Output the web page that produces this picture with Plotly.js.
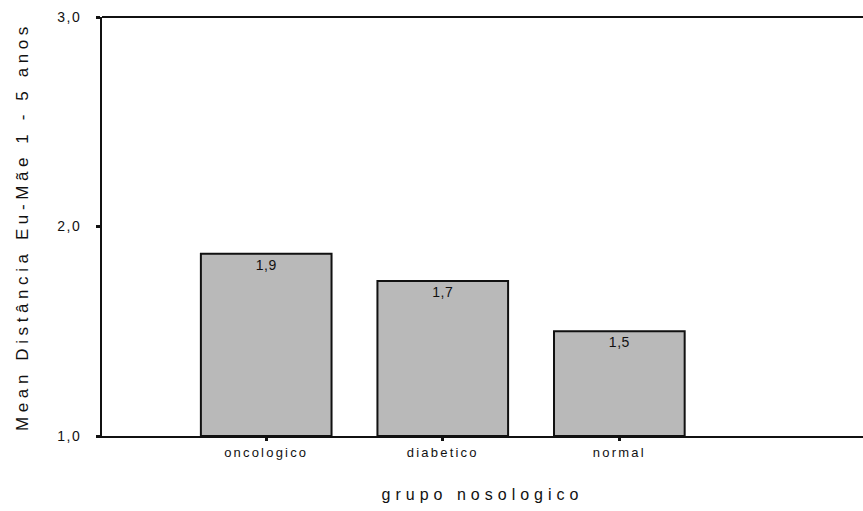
<!DOCTYPE html>
<html>
<head>
<meta charset="utf-8">
<script src="https://cdn.plot.ly/plotly-3.0.1.min.js"></script>
<style>
html,body{margin:0;padding:0;background:#fff;}
#chart{width:863px;height:511px;}
.xtitle{letter-spacing:5px;}
.ytitle{letter-spacing:4.6px;}
.xtick text{letter-spacing:2.2px;}
.ytick text{letter-spacing:1.5px;}
.bartext{letter-spacing:0.5px;}
</style>
</head>
<body>
<div id="chart"></div>
<script>
const categories = ["oncologico", "diabetico", "normal"];
const means = [1.87, 1.74, 1.50];
const labels = ["1,9", "1,7", "1,5"];
const yTicks = [1, 2, 3];
const yTickText = ["1,0", "2,0", "3,0"];

const trace = {
  type: "bar",
  x: [0, 1, 2],
  y: means.map(v => v - 1),
  base: 1,
  width: 0.74,
  marker: {color: "#b9b9b9", line: {color: "#111", width: 2}},
  text: labels,
  textposition: "inside",
  insidetextanchor: "end",
  textfont: {family: "Liberation Sans, Arial, sans-serif", size: 14, color: "#111"},
  textangle: 0,
  hoverinfo: "none"
};

const layout = {
  width: 863, height: 511,
  margin: {l: 102, r: 0, t: 17, b: 75},
  paper_bgcolor: "#fff", plot_bgcolor: "#fff",
  showlegend: false,
  font: {family: "Liberation Sans, Arial, sans-serif", color: "#111"},
  xaxis: {
    range: [-0.93, 3.38],
    tickvals: [0, 1, 2],
    ticktext: categories,
    ticks: "outside", ticklen: 3, tickwidth: 3, tickcolor: "#111",
    showline: true, linecolor: "#111", linewidth: 2,
    showgrid: false, zeroline: false,
    tickfont: {size: 13, color: "#111"},
    title: {text: "grupo nosologico", font: {size: 16, color: "#111"}, standoff: 30}
  },
  yaxis: {
    range: [1, 3],
    tickvals: yTicks,
    ticktext: yTickText,
    ticks: "outside", ticklen: 4, tickwidth: 3, tickcolor: "#111",
    ticklabelstandoff: 12,
    showline: true, linecolor: "#111", linewidth: 2,
    showgrid: false, zeroline: false,
    tickfont: {size: 14, color: "#111"},
    title: {text: "Mean Distância Eu-Mãe 1 - 5 anos", font: {size: 17, color: "#111"}, standoff: 24}
  },
  shapes: [{type: "line", xref: "paper", yref: "paper", x0: 0, x1: 1, y0: 1, y1: 1, line: {color: "#111", width: 2}}]
};

Plotly.newPlot("chart", [trace], layout, {displayModeBar: false, staticPlot: true});
</script>
</body>
</html>
